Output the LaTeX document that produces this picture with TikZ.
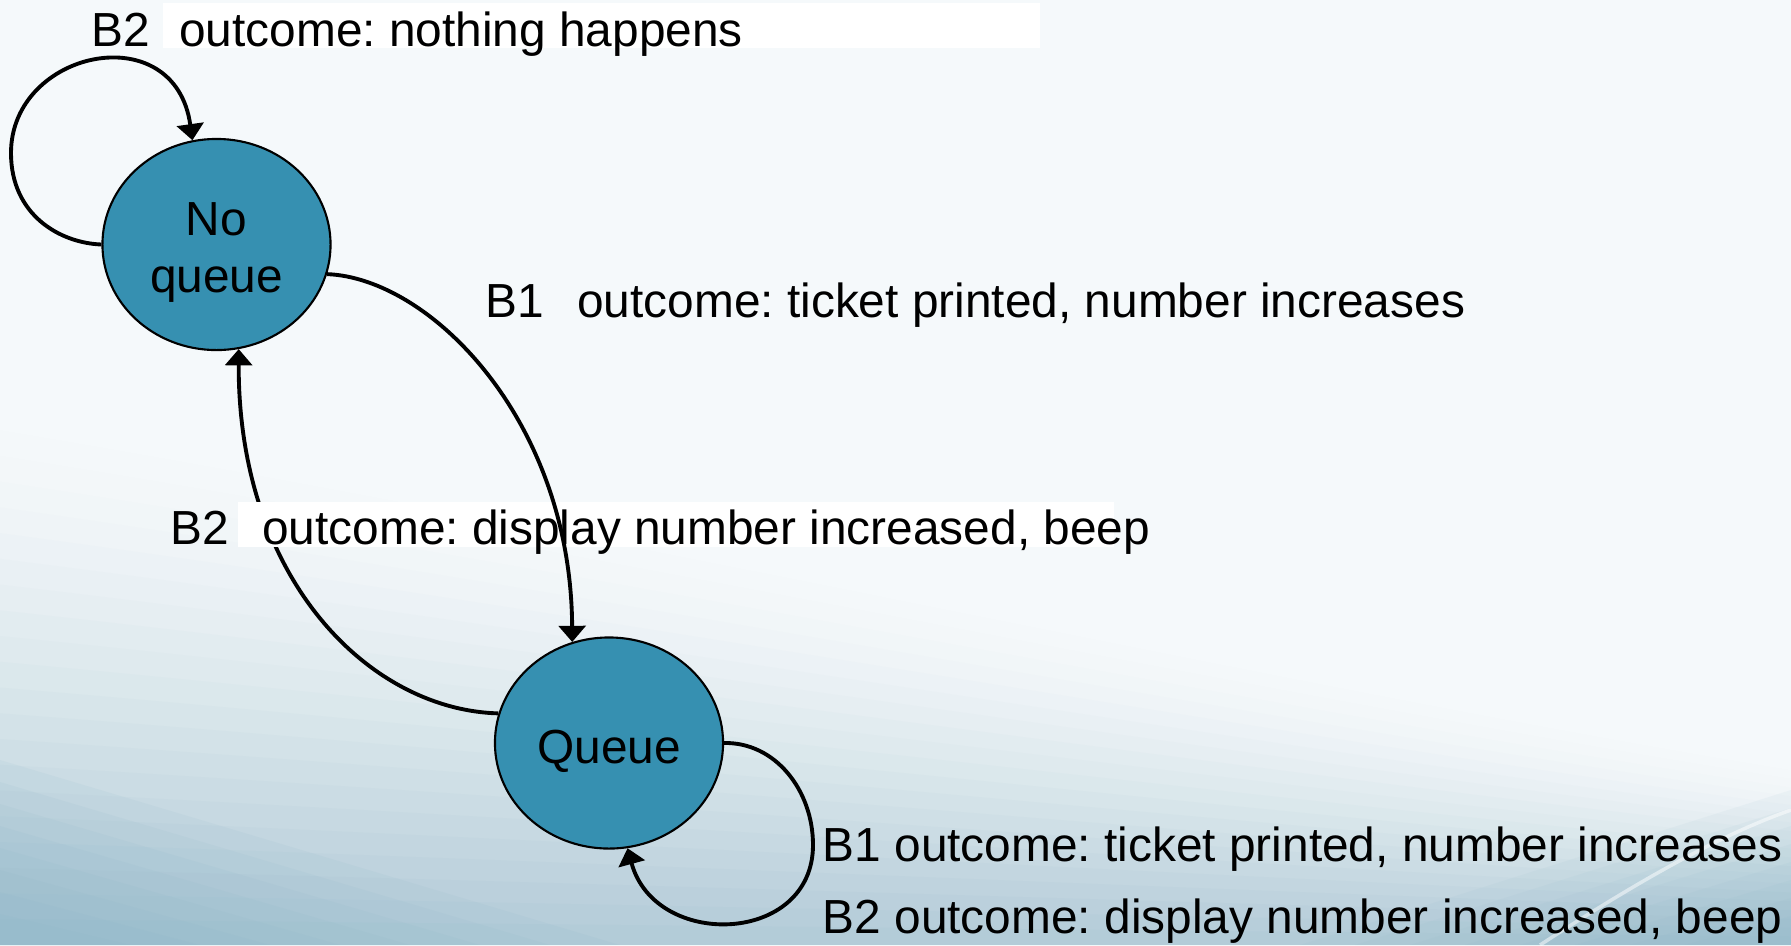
\documentclass[tikz,border=0pt]{standalone}
\usepackage{fontspec}
\setmainfont{Liberation Sans}
\usetikzlibrary{shapes.geometric, arrows.meta}
\definecolor{cState}{HTML}{3690B1}
\definecolor{cBg}{HTML}{F5F9FB}
\definecolor{cBgLow}{HTML}{86B3C5}
\newcommand\lblfont{\fontsize{13.6}{16.3}\selectfont\frenchspacing}
\newcommand\sttop{\rule{0pt}{0.49cm}}

\begin{document}
\begin{tikzpicture}[x=0.01cm, y=-0.01cm,
  state/.style={ellipse, draw=black, fill=cState, line width=0.6pt,
    minimum width=2.28cm, minimum height=2.11cm, inner sep=0pt,
    align=center, font=\lblfont},
  lbl/.style={anchor=base west, inner sep=0pt, font=\lblfont},
  wbox/.style={fill=white},
  band/.style={fill=cBgLow, opacity=#1},
  trans/.style={line width=1.1pt, -{Triangle[length=4.6pt, width=7.6pt]}}
]

  % background
  \useasboundingbox (0,0) rectangle (1791,945);
  \fill[cBg] (0,0) rectangle (1791,945);
  \foreach \i in {0,...,19}{
    \pgfmathsetmacro\ya{430+25.75*\i}
    \pgfmathsetmacro\yb{530+20.75*\i}
    \pgfmathsetmacro\yc{690+12.75*\i}
    \pgfmathsetmacro\yd{770+8.75*\i}
    \pgfmathsetmacro\op{0.005+0.0035*\i}
    \fill[band=\op] (0,\ya) .. controls (600,\yb) and (1300,\yc) .. (1791,\yd)
      -- (1791,945) -- (0,945) -- cycle;
  }
  \foreach \i in {0,...,7}{
    \pgfmathsetmacro\ya{760+22*\i}
    \pgfmathsetmacro\xa{620-70*\i}
    \fill[band=0.09] (0,\ya) -- (\xa,945) -- (0,945) -- cycle;
    \pgfmathsetmacro\yb{790+18*\i}
    \pgfmathsetmacro\xb{1300+55*\i}
    \fill[band=0.07] (1791,\yb) -- (1791,945) -- (\xb,945) -- cycle;
  }
  \draw[white, opacity=0.5, line width=1pt] (1540,945) .. controls (1640,880) and (1720,835) .. (1791,810);

  \node[state] (nq) at (216.5,244.5) {\sttop No\\queue};
  \node[state] (q) at (609,743) {\sttop Queue};

  \draw[trans] (nq.west) .. controls (60,243) and (11,215) .. (11,153)
    .. controls (11,50) and (175,15) .. (nq.103);
  \draw[trans] (q.165) .. controls (370,710) and (238,580) .. (nq.-78);
  \fill[wbox] (238,502) rectangle (1114,547);
  \draw[trans] (nq.-15) .. controls (430,278) and (571,420) .. (q.110);
  \draw[trans] (q.east) .. controls (775,742) and (813,790) .. (813,845)
    .. controls (813,945) and (655,950) .. (q.-80);

  \fill[wbox] (163,3) rectangle (1040,48);
  \node[lbl] (selfNq) at (91,46) {B2\hspace{0.29cm}outcome: nothing happens};
  \node[lbl] (toQ) at (485,317) {B1\hspace{0.33cm}outcome: ticket printed, number increases};
  \node[lbl] (toNq) at (170,544) {B2\hspace{0.33cm}outcome: display number increased, beep};
  \node[lbl] (selfQa) at (822,861) {B1 outcome: ticket printed, number increases};
  \node[lbl] (selfQb) at (822,933) {B2 outcome: display number increased, beep};

\end{tikzpicture}
\end{document}
